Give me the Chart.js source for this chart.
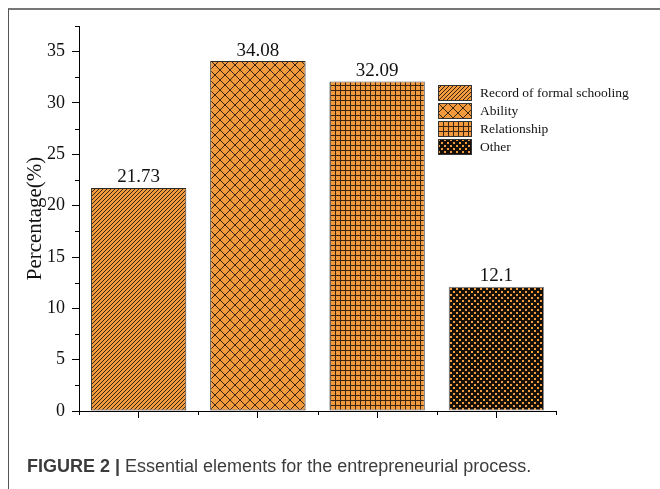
<!DOCTYPE html>
<html>
<head>
<meta charset="utf-8">
<script src="https://cdn.jsdelivr.net/npm/chart.js@4.4.1/dist/chart.umd.min.js"></script>
<style>
  html, body { margin: 0; padding: 0; background: #fff; }
  #wrap { position: relative; width: 660px; height: 489px; overflow: hidden; }
  #frame { position: absolute; left: 8px; top: 8px; width: 700px; height: 600px; border-top: 2px solid #767676; border-left: 1px solid #555; }
  #chart { position: absolute; left: 0; top: 0; }
  #legend { position: absolute; left: 438px; top: 84px; font-family: "Liberation Serif", serif; font-size: 13.5px; color: #111; }
  .item { display: flex; align-items: center; height: 18px; }
  .item canvas { margin-right: 8px; }
  #caption { position: absolute; left: 27px; top: 458px; line-height: 17px; font-family: "Liberation Sans", Arial, sans-serif; font-size: 18px; color: #3c3c3c; white-space: nowrap; }
</style>
</head>
<body>
<div id="wrap">
  <div id="frame"></div>
  <canvas id="chart" width="660" height="489"></canvas>
  <div id="legend"></div>
  <div id="caption"><b>FIGURE 2 |</b> Essential elements for the entrepreneurial process.</div>
</div>
<script>
const categories  = ["Record of formal schooling", "Ability", "Relationship", "Other"];
const percentages = [21.73, 34.08, 32.09, 12.1];
const yTicks      = [0, 5, 10, 15, 20, 25, 30, 35];
const fills       = ["diag", "cross", "grid", "dots"];

const ORANGE = "#F29A3E";
const INK    = "#3b2410";

// small tiles for the hatch fills
function makePattern(kind) {
  const c = document.createElement("canvas");
  const g = c.getContext("2d");
  let s = 4;
  if (kind === "diag") {
    s = 4; c.width = c.height = s;
    g.fillStyle = ORANGE; g.fillRect(0, 0, s, s);
    g.strokeStyle = INK; g.lineWidth = 1; g.beginPath();
    for (const k of [-s, 0, s]) { g.moveTo(k, s); g.lineTo(k + s, 0); }
    g.stroke();
  } else if (kind === "cross") {
    s = 10; c.width = c.height = s;
    g.fillStyle = ORANGE; g.fillRect(0, 0, s, s);
    g.strokeStyle = INK; g.lineWidth = 1; g.beginPath();
    g.moveTo(0, 0); g.lineTo(s, s);
    g.moveTo(0, s); g.lineTo(s, 0);
    g.stroke();
  } else if (kind === "grid") {
    s = 5; c.width = c.height = s;
    g.fillStyle = ORANGE; g.fillRect(0, 0, s, s);
    g.fillStyle = INK; g.fillRect(0, 0, s, 1); g.fillRect(0, 0, 1, s);
  } else {
    s = 6; c.width = c.height = s;
    g.fillStyle = "#141008"; g.fillRect(0, 0, s, s);
    g.fillStyle = ORANGE; g.fillRect(0, 0, 2, 2); g.fillRect(3, 3, 2, 2);
  }
  return g.createPattern(c, "repeat");
}

const patterns = fills.map(makePattern);

const minorTicks = {
  id: "minorTicks",
  afterDraw(chart) {
    const { ctx, chartArea: a, scales: { x, y } } = chart;
    ctx.save();
    ctx.strokeStyle = "#000";
    ctx.lineWidth = 1;
    ctx.beginPath();
    y.ticks.forEach(t => {
      if (t.value % 5 !== 0) {
        const py = Math.round(y.getPixelForValue(t.value)) + 0.5;
        ctx.moveTo(a.left - 4, py); ctx.lineTo(a.left, py);
      }
    });
    for (let i = 0; i <= categories.length; i++) {
      const px = Math.round(x.getPixelForValue(i - 0.5)) + 0.5;
      ctx.moveTo(px, a.bottom); ctx.lineTo(px, a.bottom + 4);
    }
    ctx.stroke();
    ctx.restore();
  }
};

const valueLabels = {
  id: "valueLabels",
  afterDatasetsDraw(chart) {
    const { ctx } = chart;
    const meta = chart.getDatasetMeta(0);
    ctx.save();
    ctx.font = '19px "Liberation Serif"';
    ctx.fillStyle = "#111";
    ctx.textAlign = "center";
    ctx.textBaseline = "bottom";
    meta.data.forEach((bar, i) => ctx.fillText(String(percentages[i]), bar.x, bar.y - 1));
    ctx.restore();
  }
};

new Chart(document.getElementById("chart"), {
  type: "bar",
  data: {
    labels: categories,
    datasets: [{
      data: percentages,
      backgroundColor: patterns,
      borderColor: ["#2a2a2a", "#2a2a2a", "#555", "#888"],
      borderWidth: 1,
      borderSkipped: false,
      barPercentage: 0.8,
      categoryPercentage: 1
    }]
  },
  options: {
    responsive: false,
    animation: false,
    layout: { padding: { top: 26, right: 104, left: 0, bottom: 0 } },
    plugins: { legend: { display: false }, tooltip: { enabled: false } },
    scales: {
      x: {
        offset: true,
        grid: { offset: false, drawOnChartArea: false, tickLength: 7, tickColor: "#000" },
        border: { color: "#000", width: 1 },
        ticks: { display: false },
        afterFit: s => { s.height = 78; }
      },
      y: {
        min: 0,
        max: 37.5,
        ticks: {
          stepSize: 2.5,
          padding: 7,
          color: "#111",
          font: { family: "Liberation Serif", size: 18 },
          callback: v => yTicks.includes(v) ? v : ""
        },
        grid: {
          drawOnChartArea: false,
          tickLength: 7,
          tickColor: c => (c.tick && yTicks.includes(c.tick.value)) ? "#000" : "rgba(0,0,0,0)"
        },
        border: { color: "#000", width: 1 },
        title: {
          display: true,
          text: "Percentage(%)",
          color: "#111",
          font: { family: "Liberation Serif", size: 21 },
          padding: { top: 23, bottom: 0 }
        },
        afterFit: s => { s.width = 79; }
      }
    }
  },
  plugins: [minorTicks, valueLabels]
});

// legend with the same fills
const legend = document.getElementById("legend");
categories.forEach((name, i) => {
  const row = document.createElement("div");
  row.className = "item";
  const sw = document.createElement("canvas");
  sw.width = 34; sw.height = 16;
  const g = sw.getContext("2d");
  g.fillStyle = makePattern(fills[i]);
  g.fillRect(0, 0, 34, 16);
  g.strokeStyle = "#333";
  g.strokeRect(0.5, 0.5, 33, 15);
  const label = document.createElement("span");
  label.textContent = name;
  row.appendChild(sw);
  row.appendChild(label);
  legend.appendChild(row);
});
</script>
</body>
</html>
